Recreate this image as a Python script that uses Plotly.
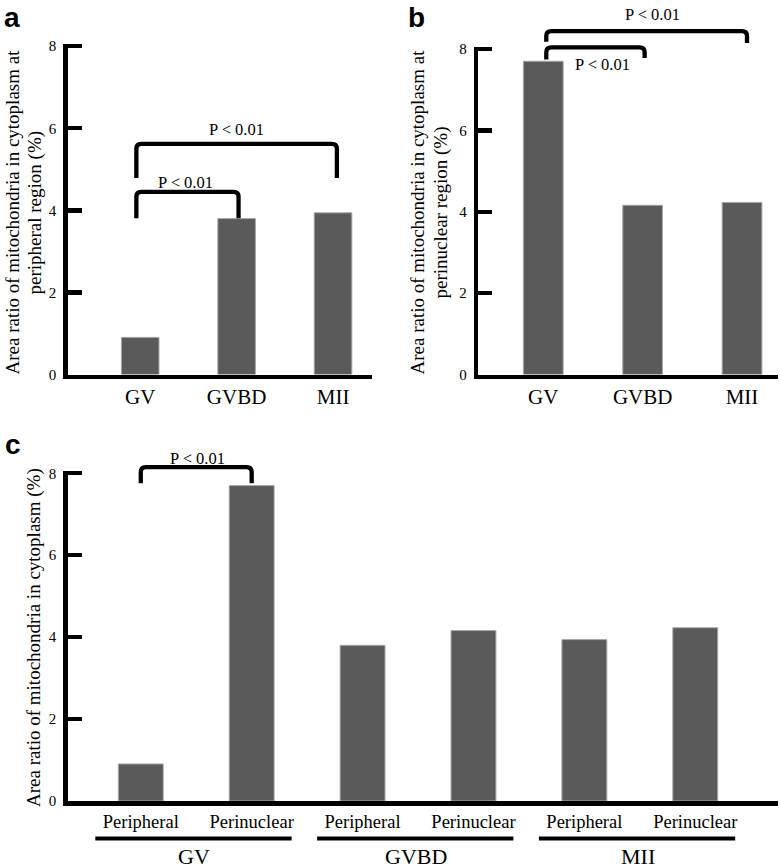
import plotly.graph_objects as go

# ---------------- data ----------------
stages = ["GV", "GVBD", "MII"]
regions = ["Peripheral", "Perinuclear"]
peripheral = [0.905, 3.80, 3.94]
perinuclear = [7.70, 4.16, 4.23]
y_ticks = [0, 2, 4, 6, 8]

# significance brackets:
# (left leg x, right leg x, bracket top, left leg bottom, right leg bottom, label x, label y)
brackets_a = [(-0.04, 1.02, 4.45, 3.81, 3.81, 0.465, 4.69),
              (-0.04, 2.04, 5.62, 4.79, 4.79, 0.994, 5.96)]
brackets_b = [(0.03, 1.02, 8.04, 7.74, 7.78, 0.60, 7.63),
              (0.03, 2.05, 8.44, 8.18, 8.15, 1.10, 8.84)]
brackets_c = [(0.0, 1.0, 8.15, 7.76, 7.76, 0.507, 8.37)]
sig_label = "P < 0.01"

title_a = ["Area ratio of mitochondria in cytoplasm at", "peripheral region (%)"]
title_b = ["Area ratio of mitochondria in cytoplasm at", "perinuclear region (%)"]
title_c = ["Area ratio of mitochondria in cytoplasm (%)"]

c_values = [v for pair in zip(peripheral, perinuclear) for v in pair]
c_x = list(range(len(c_values)))
c_ticktext = [regions[i % 2] for i in c_x]

W, H = 780, 868
SERIF = "Liberation Serif, Times New Roman, Times, serif"
BAR = "#5a5a5a"
EDGE = "#a8a8a8"

fig = go.Figure()
fig.add_trace(go.Bar(x=list(range(3)), y=peripheral, width=0.39,
                     marker=dict(color=BAR, line=dict(color=EDGE, width=1)),
                     xaxis="x", yaxis="y", showlegend=False, hoverinfo="skip"))
fig.add_trace(go.Bar(x=list(range(3)), y=perinuclear, width=0.40,
                     marker=dict(color=BAR, line=dict(color=EDGE, width=1)),
                     xaxis="x2", yaxis="y2", showlegend=False, hoverinfo="skip"))
fig.add_trace(go.Bar(x=c_x, y=c_values, width=0.405,
                     marker=dict(color=BAR, line=dict(color=EDGE, width=1)),
                     xaxis="x3", yaxis="y3", showlegend=False, hoverinfo="skip"))

def px_x(p):
    return p / W

def px_y(p):
    return 1 - p / H

# pixel layout of each panel: x domain (left, right), y domain (bottom, top), x range, y range top
panels = {
    "": dict(xd=(67.7, 371.7), yd=(374.5, 44.0), xr=(-0.752, 2.401), ytop=8.054),
    "2": dict(xd=(478.3, 778), yd=(374.5, 47.0), xr=(-0.654, 2.362), ytop=8.05),
    "3": dict(xd=(67.7, 778), yd=(801.0, 471.0), xr=(-0.659, 5.746), ytop=8.056),
}

xaxis_common = dict(showline=True, linewidth=4.5, linecolor="black", ticks="", showgrid=False, zeroline=False,
                    tickfont=dict(family=SERIF, size=21, color="black"), fixedrange=True)
yaxis_common = dict(showline=True, linewidth=4.5, linecolor="black", ticks="inside", ticklen=14, tickwidth=4.3,
                    tickcolor="black", showgrid=False, zeroline=False, tickvals=y_ticks,
                    tickfont=dict(family=SERIF, size=15, color="black"), ticklabelstandoff=4, fixedrange=True)

layout = dict(width=W, height=H, margin=dict(l=0, r=0, t=0, b=0, autoexpand=False), plot_bgcolor="white",
              paper_bgcolor="white", bargap=0, showlegend=False)

for key, p in panels.items():
    xd = [px_x(p["xd"][0]), px_x(p["xd"][1])]
    yd = [px_y(p["yd"][0]), px_y(p["yd"][1])]
    xa = dict(xaxis_common, domain=xd, range=list(p["xr"]), anchor="y" + key)
    ya = dict(yaxis_common, domain=yd, range=[0, p["ytop"]], anchor="x" + key)
    if key == "3":
        xa.update(tickvals=c_x, ticktext=c_ticktext, tickfont=dict(family=SERIF, size=18.5, color="black"))
    else:
        xa.update(tickvals=list(range(3)), ticktext=stages)
    layout["xaxis" + key] = xa
    layout["yaxis" + key] = ya

fig.update_layout(**layout)

shapes = []
annotations = []

def add_brackets(brs, key, px_per_x, px_per_y, ytop):
    xref = "x" + key
    yref = ("y" + key) + " domain"
    rx = 5.0 / px_per_x
    ry = 5.0 / (px_per_y * ytop)
    for (x0, x1, top, b0, b1, lx, ly) in brs:
        t = top / ytop
        path = (f"M {x0},{b0/ytop} L {x0},{t-ry} Q {x0},{t} {x0+rx},{t} "
                f"L {x1-rx},{t} Q {x1},{t} {x1},{t-ry} L {x1},{b1/ytop}")
        shapes.append(dict(type="path", path=path, xref=xref, yref=yref,
                           line=dict(color="black", width=4.3)))
        annotations.append(dict(text=sig_label, x=lx, y=ly / ytop, xref=xref, yref=yref, showarrow=False,
                                xanchor="center", yanchor="middle",
                                font=dict(family=SERIF, size=16.5, color="black")))

add_brackets(brackets_a, "", 96.4, 41.04, panels[""]["ytop"])
add_brackets(brackets_b, "2", 99.4, 40.69, panels["2"]["ytop"])
add_brackets(brackets_c, "3", 110.9, 40.96, panels["3"]["ytop"])

# group underlines and labels for panel c
for k, g in enumerate(stages):
    shapes.append(dict(type="line", xref="x3", yref="paper", x0=2 * k - 0.41, x1=2 * k + 1.36,
                       y0=px_y(838.5), y1=px_y(838.5), line=dict(color="black", width=4)))
    annotations.append(dict(text=g, x=2 * k + 0.48, y=px_y(856), xref="x3", yref="paper", showarrow=False,
                            xanchor="center", yanchor="middle", font=dict(family=SERIF, size=22, color="black")))

# y-axis titles
def add_title(lines, xs, yc):
    for line, xc in zip(lines, xs):
        annotations.append(dict(text=line, x=px_x(xc), y=px_y(yc), xref="paper", yref="paper", showarrow=False,
                                textangle=-90, xanchor="center", yanchor="middle",
                                font=dict(family=SERIF, size=19, color="black")))

add_title(title_a, [12, 34], 212.5)
add_title(title_b, [417, 440], 212.5)
add_title(title_c, [34], 638)

# panel letters
for letter, xp, yp in [("a", 2, 0), ("b", 406, 0), ("c", 3, 427)]:
    annotations.append(dict(text=f"<b>{letter}</b>", x=px_x(xp), y=px_y(yp), xref="paper", yref="paper",
                            showarrow=False, xanchor="left", yanchor="top",
                            font=dict(family="Liberation Sans, Arial, sans-serif", size=28, color="black")))

fig.update_layout(shapes=shapes, annotations=annotations)
fig.write_html("out.html", config={"displayModeBar": False, "staticPlot": True},
               post_script="document.body.style.margin='0';document.body.style.padding='0';")
